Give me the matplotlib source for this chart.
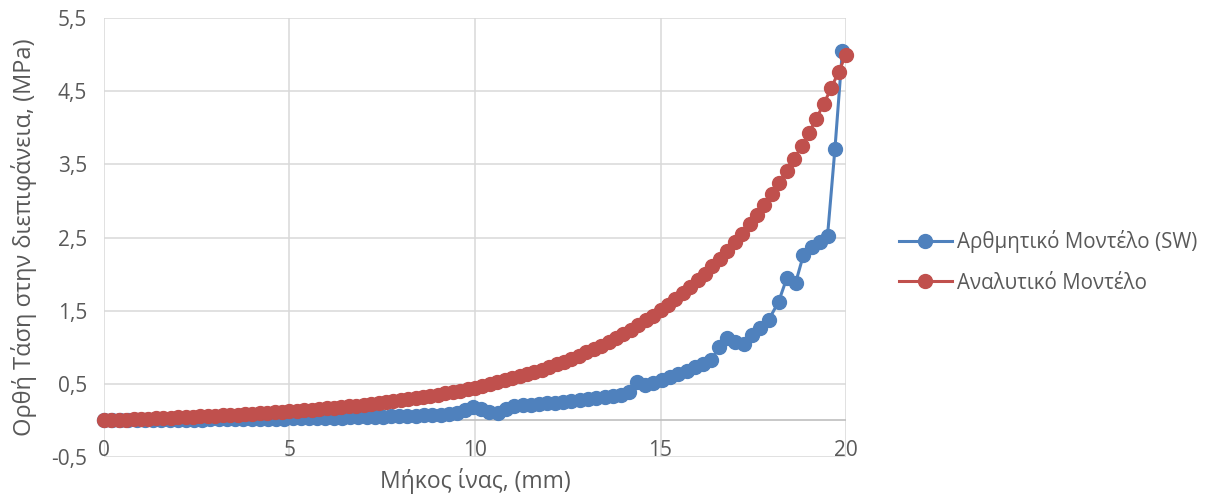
import matplotlib.pyplot as plt

plt.rcParams['font.family'] = ['Open Sans', 'DejaVu Sans']

# analytic model: fibre length (mm) vs interface normal stress (MPa)
x_analytic = [0.0, 0.2, 0.4, 0.6, 0.8, 1.0, 1.2, 1.4, 1.6, 1.8,
              2.0, 2.2, 2.4, 2.6, 2.8, 3.0, 3.2, 3.4, 3.6, 3.8,
              4.0, 4.2, 4.4, 4.6, 4.8, 5.0, 5.2, 5.4, 5.6, 5.8,
              6.0, 6.2, 6.4, 6.6, 6.8, 7.0, 7.2, 7.4, 7.6, 7.8,
              8.0, 8.2, 8.4, 8.6, 8.8, 9.0, 9.2, 9.4, 9.6, 9.8,
              10.0, 10.2, 10.4, 10.6, 10.8, 11.0, 11.2, 11.4, 11.6, 11.8,
              12.0, 12.2, 12.4, 12.6, 12.8, 13.0, 13.2, 13.4, 13.6, 13.8,
              14.0, 14.2, 14.4, 14.6, 14.8, 15.0, 15.2, 15.4, 15.6, 15.8,
              16.0, 16.2, 16.4, 16.6, 16.8, 17.0, 17.2, 17.4, 17.6, 17.8,
              18.0, 18.2, 18.4, 18.6, 18.8, 19.0, 19.2, 19.4, 19.6, 19.8,
              20.0]
y_analytic = [0.000, 0.004, 0.008, 0.012, 0.016, 0.020, 0.024, 0.028, 0.032, 0.037,
              0.041, 0.045, 0.050, 0.055, 0.060, 0.065, 0.070, 0.075, 0.080, 0.086,
              0.092, 0.098, 0.104, 0.110, 0.117, 0.124, 0.132, 0.139, 0.147, 0.155,
              0.164, 0.173, 0.182, 0.192, 0.202, 0.213, 0.224, 0.236, 0.248, 0.261,
              0.275, 0.289, 0.303, 0.319, 0.335, 0.352, 0.370, 0.388, 0.408, 0.428,
              0.450, 0.472, 0.496, 0.521, 0.547, 0.574, 0.602, 0.632, 0.663, 0.696,
              0.731, 0.767, 0.805, 0.845, 0.886, 0.930, 0.976, 1.024, 1.075, 1.128,
              1.183, 1.242, 1.303, 1.367, 1.434, 1.505, 1.579, 1.657, 1.738, 1.824,
              1.914, 2.008, 2.107, 2.210, 2.319, 2.433, 2.553, 2.679, 2.810, 2.949,
              3.094, 3.246, 3.405, 3.573, 3.749, 3.933, 4.126, 4.329, 4.542, 4.766,
              5.000]

# numerical model (SW)
x_numeric = [0.00, 0.22, 0.44, 0.66, 0.88, 1.11, 1.33, 1.55, 1.77, 1.99,
             2.21, 2.43, 2.65, 2.87, 3.10, 3.32, 3.54, 3.76, 3.98, 4.20,
             4.42, 4.64, 4.86, 5.09, 5.31, 5.53, 5.75, 5.97, 6.19, 6.41,
             6.63, 6.85, 7.08, 7.30, 7.52, 7.74, 7.96, 8.18, 8.40, 8.62,
             8.84, 9.07, 9.29, 9.51, 9.73, 9.95, 10.17, 10.39, 10.61, 10.83,
             11.06, 11.28, 11.50, 11.72, 11.94, 12.16, 12.38, 12.60, 12.82, 13.04,
             13.27, 13.49, 13.71, 13.93, 14.15, 14.37, 14.59, 14.81, 15.03, 15.26,
             15.48, 15.70, 15.92, 16.14, 16.36, 16.58, 16.80, 17.02, 17.25, 17.47,
             17.69, 17.91, 18.18, 18.40, 18.64, 18.85, 19.07, 19.29, 19.50, 19.70,
             19.90]
y_numeric = [0.000, 0.001, 0.002, 0.003, 0.004, 0.005, 0.006, 0.007, 0.008, 0.009,
             0.010, 0.011, 0.012, 0.013, 0.014, 0.016, 0.017, 0.018, 0.019, 0.021,
             0.022, 0.024, 0.025, 0.027, 0.029, 0.031, 0.033, 0.035, 0.037, 0.039,
             0.042, 0.044, 0.047, 0.050, 0.053, 0.056, 0.059, 0.062, 0.066, 0.070,
             0.075, 0.080, 0.090, 0.105, 0.140, 0.185, 0.150, 0.110, 0.105, 0.150,
             0.195, 0.205, 0.215, 0.225, 0.235, 0.245, 0.256, 0.267, 0.279, 0.291,
             0.304, 0.318, 0.333, 0.350, 0.390, 0.520, 0.480, 0.510, 0.550, 0.595,
             0.635, 0.680, 0.725, 0.770, 0.820, 1.000, 1.130, 1.070, 1.040, 1.170,
             1.270, 1.370, 1.620, 1.940, 1.880, 2.260, 2.370, 2.440, 2.520, 3.710,
             5.050]

blue = '#4F81BD'
red = '#C0504D'
txt = '#595959'

fig = plt.figure(figsize=(12.09, 4.96), dpi=100)
ax = fig.add_axes([0.086, 0.0786, 0.6138, 0.8851])

ax.plot(x_numeric, y_numeric, color=blue, lw=2.2, marker='o', ms=10,
        label='Αρθμητικό Μοντέλο (SW)', clip_on=False, zorder=3)
ax.plot(x_analytic, y_analytic, color=red, lw=2.2, marker='o', ms=10,
        label='Αναλυτικό Μοντέλο', clip_on=False, zorder=4)

ax.set_xlim(0, 20)
ax.set_ylim(-0.5, 5.5)
ax.set_xticks([0, 5, 10, 15, 20])
yt = [-0.5, 0.5, 1.5, 2.5, 3.5, 4.5, 5.5]
ax.set_yticks(yt)
ax.set_yticklabels([f'{v:.1f}'.replace('.', ',') for v in yt])
ax.grid(True, color='#D9D9D9', lw=1.1)
ax.set_axisbelow(True)
ax.axhline(0, color='#BFBFBF', lw=1.2, zorder=1)
for s in ax.spines.values():
    s.set_visible(False)
ax.tick_params(axis='both', length=0, labelsize=15, colors=txt)
ax.tick_params(axis='y', pad=12)
ax.tick_params(axis='x', pad=-12)

ax.set_xlabel('Μήκος ίνας, (mm)', fontsize=16.5, color=txt, labelpad=5)
ax.set_ylabel('Ορθή Τάση στην διεπιφάνεια, (MPa)', fontsize=17, color=txt, labelpad=10)

leg = ax.legend(loc='center left', bbox_to_anchor=(0.728, 0.472),
                bbox_transform=fig.transFigure, frameon=False, fontsize=14.8,
                handlelength=2.6, labelspacing=0.95, handletextpad=0.25)
for t in leg.get_texts():
    t.set_color(txt)

fig.savefig('out.png', dpi=100)
